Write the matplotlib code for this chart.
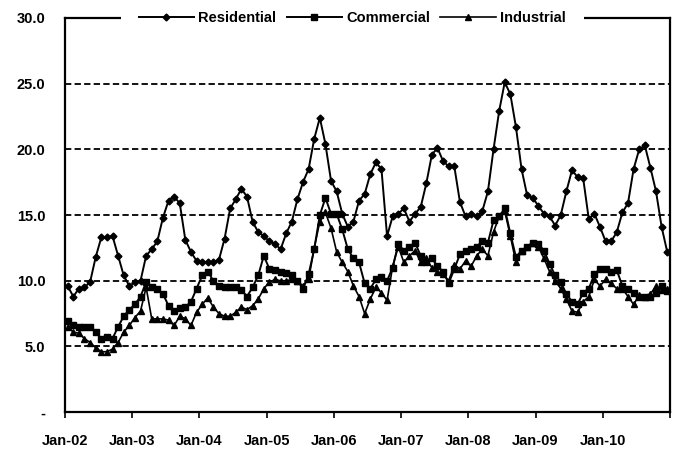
import matplotlib.pyplot as plt
import numpy as np

plt.rcParams['font.family'] = ['Liberation Sans Narrow', 'Liberation Sans', 'DejaVu Sans']

# monthly values, Jan-02 .. Dec-10
residential = [9.6, 8.8, 9.4, 9.5, 9.9, 11.8, 13.3, 13.3, 13.4, 11.9, 10.4, 9.6,
               9.9, 10.0, 11.9, 12.4, 13.0, 14.8, 16.1, 16.4, 15.9, 13.1, 12.2, 11.5,
               11.4, 11.4, 11.4, 11.6, 13.2, 15.5, 16.2, 17.0, 16.4, 14.5, 13.7, 13.4,
               13.0, 12.8, 12.4, 13.6, 14.5, 16.2, 17.5, 18.5, 20.8, 22.4, 20.4, 17.6,
               16.8, 15.1, 14.1, 14.5, 16.1, 16.6, 18.1, 19.0, 18.5, 13.4, 14.9, 15.1,
               15.5, 14.5, 15.1, 15.6, 17.4, 19.6, 20.1, 19.1, 18.7, 18.7, 16.0, 14.9,
               15.1, 14.9, 15.3, 16.8, 20.0, 22.9, 25.1, 24.2, 21.7, 18.5, 16.5, 16.3,
               15.7, 15.1, 14.9, 14.2, 15.0, 16.8, 18.4, 17.9, 17.8, 14.7, 15.1, 14.1,
               13.0, 13.0, 13.7, 15.2, 15.9, 18.5, 20.0, 20.3, 18.6, 16.8, 14.1, 12.2]

commercial = [6.9, 6.6, 6.5, 6.5, 6.5, 6.1, 5.6, 5.7, 5.6, 6.5, 7.3, 7.8,
              8.2, 8.8, 9.9, 9.5, 9.4, 9.0, 8.1, 7.7, 7.9, 8.0, 8.4, 9.4,
              10.4, 10.7, 10.0, 9.6, 9.5, 9.5, 9.5, 9.3, 8.8, 9.5, 10.4, 11.9,
              10.9, 10.8, 10.7, 10.6, 10.4, 10.0, 9.4, 10.5, 12.4, 15.0, 16.3, 15.1,
              15.1, 13.9, 12.4, 11.7, 11.4, 9.8, 9.4, 10.1, 10.3, 10.0, 11.0, 12.8,
              12.3, 12.6, 12.9, 11.9, 11.4, 11.7, 11.1, 10.7, 9.8, 10.9, 12.0, 12.3,
              12.4, 12.6, 13.0, 12.9, 14.6, 14.9, 15.5, 13.6, 11.8, 12.3, 12.6, 12.9,
              12.8, 12.3, 11.3, 10.4, 9.9, 9.0, 8.4, 8.2, 9.1, 9.4, 10.5, 10.9,
              10.9, 10.7, 10.8, 9.6, 9.4, 9.1, 8.8, 8.8, 8.8, 9.1, 9.6, 9.2]

industrial = [6.5, 6.1, 6.0, 5.6, 5.3, 4.9, 4.6, 4.6, 4.8, 5.3, 6.1, 6.6,
              7.2, 7.7, 9.5, 7.1, 7.1, 7.1, 7.0, 6.6, 7.3, 7.1, 6.6, 7.6,
              8.2, 8.7, 8.0, 7.5, 7.3, 7.3, 7.6, 8.0, 7.8, 8.1, 8.6, 9.4,
              9.9, 10.1, 10.0, 10.0, 10.1, 10.0, 9.6, 10.1, 12.5, 14.5, 15.2, 14.0,
              12.2, 11.4, 10.7, 9.6, 8.8, 7.5, 8.6, 9.5, 9.1, 8.5, 11.1, 12.6,
              11.4, 11.9, 12.3, 11.4, 11.7, 11.0, 10.7, 10.5, 10.0, 11.2, 10.9, 11.5,
              11.1, 11.9, 12.4, 11.9, 13.7, 14.9, 15.3, 13.4, 11.4, 12.3, 12.6, 12.9,
              12.6, 11.7, 10.7, 10.0, 9.4, 8.6, 7.7, 7.6, 8.4, 8.8, 10.1, 9.6,
              10.1, 9.8, 9.4, 9.4, 8.8, 8.2, 8.9, 8.8, 9.0, 9.6, 9.3, 9.4]

year_labels = ['Jan-02', 'Jan-03', 'Jan-04', 'Jan-05', 'Jan-06',
               'Jan-07', 'Jan-08', 'Jan-09', 'Jan-10']
y_ticks = [0, 5, 10, 15, 20, 25, 30]
y_labels = ['-', '5.0', '10.0', '15.0', '20.0', '25.0', '30.0']

months = np.arange(len(residential))

fig = plt.figure(figsize=(6.83, 4.59), dpi=100)
ax = fig.add_axes([0.095, 0.102, 0.886, 0.859])

for yv in y_ticks[1:-1]:
    ax.axhline(yv, color='black', lw=1.3, ls=(0, (3.5, 1.8)), zorder=1)

ax.plot(months, residential, color='black', lw=1.4, marker='D', ms=3.5,
        label='Residential', zorder=3)
ax.plot(months, commercial, color='black', lw=1.4, marker='s', ms=4,
        label='Commercial', zorder=3)
ax.plot(months, industrial, color='black', lw=1.2, marker='^', ms=4,
        label='Industrial', zorder=2)

ax.set_xlim(-0.5, len(residential) - 0.5)
ax.set_ylim(0, 30)

ax.set_xticks(list(np.arange(0, 108, 12) - 0.5) + [107.5])
ax.set_xticklabels(year_labels + [''])
ax.set_yticks(y_ticks)
ax.set_yticklabels(y_labels)

ax.tick_params(axis='x', direction='out', length=4, width=1.2, pad=12, labelsize=10.5)
ax.tick_params(axis='y', length=0, pad=14, labelsize=10.5)
for lab in ax.get_xticklabels() + ax.get_yticklabels():
    lab.set_fontweight('bold')

for s in ax.spines.values():
    s.set_linewidth(1.6)

leg = ax.legend(loc='center', bbox_to_anchor=(0.475, 1.0), ncol=3, frameon=True,
                fancybox=False, edgecolor='none', facecolor='white', framealpha=1,
                handlelength=3.8, columnspacing=0.7, handletextpad=0.3,
                borderpad=0.3, borderaxespad=0, prop={'size': 10.5, 'weight': 'bold'})
leg.get_frame().set_boxstyle('square', pad=0.9)
leg.set_zorder(5)

fig.savefig('out.png', dpi=100)
